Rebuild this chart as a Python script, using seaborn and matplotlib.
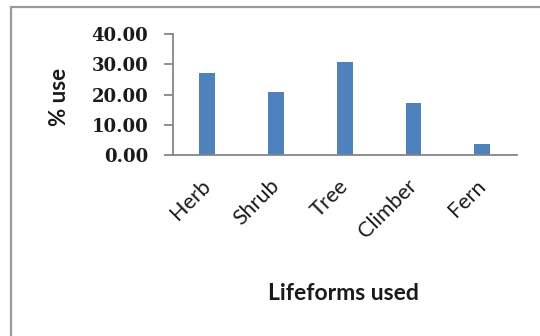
import matplotlib
matplotlib.use("Agg")
import matplotlib.pyplot as plt
import seaborn as sns
import pandas as pd
from matplotlib.patches import Rectangle
from matplotlib.ticker import FormatStrFormatter, MultipleLocator

# Share of use by plant lifeform (%)
lifeforms = ["Herb", "Shrub", "Tree", "Climber", "Fern"]
percent_use = [27.2, 20.7, 30.6, 17.2, 3.6]

df = pd.DataFrame({"Lifeform": lifeforms, "Use": percent_use})

sns.set_theme(style="white")
plt.rcParams["font.family"] = ["Lato", "DejaVu Sans"]

fig = plt.figure(figsize=(5.4, 3.36), dpi=100)
ax = fig.add_axes([172.7 / 540, 1 - 155 / 336, (516.7 - 172.7) / 540, (155 - 34) / 336])

sns.barplot(data=df, x="Lifeform", y="Use", order=lifeforms, color="#4F81BD",
            saturation=1, width=0.23, ax=ax, edgecolor="none")

axis_grey = "#868686"
ax.set_ylim(0, 40)
ax.set_xlim(-0.5, 4.5)
ax.yaxis.set_major_locator(MultipleLocator(10))
ax.yaxis.set_major_formatter(FormatStrFormatter("%.2f"))

for side in ("top", "right"):
    ax.spines[side].set_visible(False)
for side in ("left", "bottom"):
    ax.spines[side].set_color(axis_grey)
    ax.spines[side].set_linewidth(1.3)

ax.tick_params(axis="y", which="major", left=True, length=6.5, width=1.3,
               color=axis_grey, pad=11.0, direction="out")
ax.tick_params(axis="x", which="major", bottom=False, length=0, pad=20)

for lbl in ax.get_yticklabels():
    lbl.set_family("DejaVu Serif")
    lbl.set_fontweight("bold")
    lbl.set_fontsize(13)
    lbl.set_color("#1a1a1a")

ax.set_xticks(range(len(lifeforms)))
ax.set_xticklabels(lifeforms, rotation=45, ha="right", va="center",
                   rotation_mode="anchor", fontsize=15.5, color="#1a1a1a")

ax.set_xlabel("")
ax.set_ylabel("")
fig.text(59 / 540, 1 - 96.7 / 336, "% use", rotation=90, ha="center", va="center",
         fontsize=16, fontweight="bold", color="#1a1a1a")
fig.text(343 / 540, 1 - 293 / 336, "Lifeforms used", ha="center", va="center",
         fontsize=16.5, fontweight="bold", color="#1a1a1a")

# Chart-area frame
fig.patches.append(Rectangle((11 / 540, -0.1), 1.2, (1 - 7 / 336) + 0.1,
                             transform=fig.transFigure, fill=False,
                             edgecolor="#999999", linewidth=1.6))

fig.savefig("out.png", dpi=100)
